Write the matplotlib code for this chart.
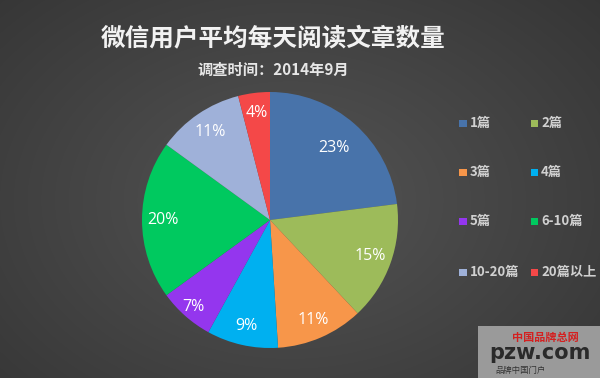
import numpy as np
import matplotlib
matplotlib.use("Agg")
import matplotlib.pyplot as plt
from matplotlib.patches import Rectangle

plt.rcParams['font.family'] = ['Noto Sans CJK SC', 'DejaVu Sans']

title = "微信用户平均每天阅读文章数量"
subtitle = "调查时间：2014年9月"
categories = ["1篇", "2篇", "3篇", "4篇", "5篇", "6-10篇", "10-20篇", "20篇以上"]
values = [23, 15, 11, 9, 7, 20, 11, 4]
colors = ["#4873aa", "#9dbb5a", "#f7964a", "#00b0f0", "#9436ee",
          "#00c95f", "#9fb1d9", "#f44848"]
label_dist = [0.75, 0.83, 0.85, 0.85, 0.91, 0.84, 0.83, 0.84]

W, H = 600, 378
fig = plt.figure(figsize=(W / 100, H / 100), dpi=100)

# background radial gradient
bg = fig.add_axes([0, 0, 1, 1])
yy, xx = np.mgrid[0:H, 0:W]
r = np.sqrt(((xx - 290) / 420) ** 2 + ((yy - 200) / 300) ** 2)
shade = 0.33 - 0.12 * np.clip(r, 0, 1)
bg.imshow(np.dstack([shade, shade, shade]), extent=[0, 1, 0, 1], aspect='auto')
bg.set_axis_off()

fig.text(273 / W, 1 - 38 / H, title, ha='center', va='center',
         fontsize=17.7, fontweight='bold', color='#f2f2f2')
fig.text(273 / W, 1 - 70 / H, subtitle, ha='center', va='center',
         fontsize=11, fontweight='bold', color='#e6e6e6')

cx, cy, rad = 270, 220, 128
ax = fig.add_axes([(cx - rad) / W, 1 - (cy + rad) / H, 2 * rad / W, 2 * rad / H])
wedges, texts, autotexts = ax.pie(
    values, colors=colors, startangle=90, counterclock=False,
    autopct=lambda p: f"{p:.0f}%", pctdistance=0.8,
    wedgeprops=dict(linewidth=0), textprops=dict(color='white', fontsize=11.5,
                                                  family=['Open Sans', 'DejaVu Sans']))
for w, t, d in zip(wedges, autotexts, label_dist):
    ang = np.deg2rad((w.theta1 + w.theta2) / 2)
    t.set_position((d * np.cos(ang), d * np.sin(ang)))
ax.set_xlim(-1, 1)
ax.set_ylim(-1, 1)
ax.set_aspect('equal')
ax.set_axis_off()

# legend, 2 columns x 4 rows
col_x = [463, 534]
row_y = [123, 172, 221, 272]
for i, (lab, c) in enumerate(zip(categories, colors)):
    x = col_x[i % 2]
    y = row_y[i // 2]
    fig.add_artist(Rectangle((x / W - 3.5 / W, 1 - (y + 3.5) / H), 7 / W, 7 / H,
                             transform=fig.transFigure, color=c, linewidth=0))
    fig.text((x + 7) / W, 1 - y / H, lab, ha='left', va='center',
             fontsize=9.5, fontweight='bold', color='#d0d0d0')

# watermark
fig.add_artist(Rectangle((478 / W, 0), 122 / W, 52 / H, transform=fig.transFigure,
                         color='#9a9a9a', linewidth=0))
fig.text(545 / W, 1 - 337 / H, "中国品牌总网", ha='center', va='center',
         fontsize=8, fontweight='bold', color='#d42020')
fig.text(540 / W, 1 - 353 / H, "pzw.com", ha='center', va='center',
         fontsize=15, fontweight='bold', color='#2a2a2a', family=['DejaVu Sans'])
fig.text(520 / W, 1 - 370 / H, "品牌中国门户", ha='center', va='center',
         fontsize=6, color='#333333')

fig.savefig("out.png", dpi=100)
